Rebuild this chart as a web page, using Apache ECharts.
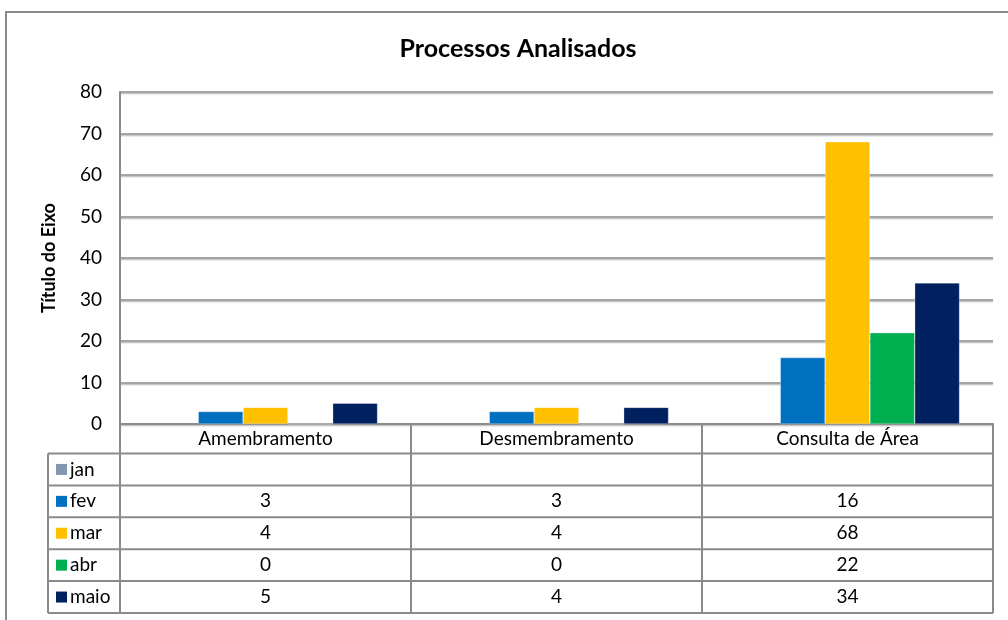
<!DOCTYPE html>
<html><head><meta charset="utf-8">
<script src="https://cdn.jsdelivr.net/npm/echarts@6/dist/echarts.min.js"></script>
<style>html,body{margin:0;padding:0;background:#fff}#c{width:1008px;height:620px}</style>
</head><body><div id="c"></div>
<script>
const categories = ['Amembramento', 'Desmembramento', 'Consulta de Área'];
const seriesNames = ['jan', 'fev', 'mar', 'abr', 'maio'];
const seriesColors = ['#8497B0', '#0070C0', '#FFC000', '#00B050', '#002060'];
const jan = [null, null, null];
const fev = [3, 3, 16];
const mar = [4, 4, 68];
const abr = [0, 0, 22];
const maio = [5, 4, 34];
const seriesData = [jan, fev, mar, abr, maio];

const FONT = 'Lato, "Liberation Sans", sans-serif';
const chart = echarts.init(document.getElementById('c'));

const G = {left: 120, right: 993, top: 92, bottom: 424};
const headerH = 29.5;
const rowH = 31.9;
const legendColLeft = 48;
const lineColor = '#8a8a8a';

function buildTable() {
  const els = [];
  const colW = (G.right - G.left) / categories.length;
  const tableBottom = G.bottom + headerH + rowH * seriesNames.length;
  els.push({type: 'rect', shape: {x: 6, y: 12, width: 1020, height: 640}, style: {fill: 'none', stroke: lineColor, lineWidth: 2}, silent: true, z: 0});
  for (let i = 0; i <= categories.length; i++) {
    const x = G.left + i * colW;
    els.push({type: 'line', shape: {x1: x, y1: G.bottom, x2: x, y2: tableBottom}, style: {stroke: lineColor, lineWidth: 2}, z: 5});
  }
  els.push({type: 'line', shape: {x1: legendColLeft, y1: G.bottom + headerH, x2: legendColLeft, y2: tableBottom}, style: {stroke: lineColor, lineWidth: 2}, z: 5});
  for (let r = 0; r <= seriesNames.length; r++) {
    const y = G.bottom + headerH + r * rowH;
    els.push({type: 'line', shape: {x1: legendColLeft, y1: y, x2: G.right, y2: y}, style: {stroke: lineColor, lineWidth: 2}, z: 5});
  }
  seriesNames.forEach((name, r) => {
    const yc = G.bottom + headerH + r * rowH + rowH / 2;
    els.push({type: 'rect', shape: {x: 56, y: yc - 5.5, width: 11, height: 11}, style: {fill: seriesColors[r]}, z: 6});
    els.push({type: 'text', style: {text: name, x: 70, y: yc, textVerticalAlign: 'middle', textAlign: 'left', font: '19px ' + FONT, fill: '#000'}, z: 6});
    seriesData[r].forEach((v, c) => {
      if (v === null || v === undefined) return;
      els.push({type: 'text', style: {text: String(v), x: G.left + (c + 0.5) * colW, y: yc, textVerticalAlign: 'middle', textAlign: 'center', font: '19px ' + FONT, fill: '#000'}, z: 6});
    });
  });
  return els;
}

const option = {
  animation: false,
  backgroundColor: '#fff',
  title: {
    text: 'Processos Analisados',
    left: 513, top: 31, textAlign: 'center',
    textStyle: {fontFamily: FONT, fontSize: 25, fontWeight: 'bold', color: '#000'}
  },
  grid: {left: G.left, right: 1008 - G.right, top: G.top, bottom: 620 - G.bottom, containLabel: false},
  xAxis: {
    type: 'category',
    data: categories,
    axisLine: {show: true, lineStyle: {color: lineColor, width: 2}},
    axisTick: {show: false},
    axisLabel: {margin: 5, fontFamily: FONT, fontSize: 19, color: '#000'},
    splitLine: {show: false}
  },
  yAxis: {
    type: 'value', min: 0, max: 80, interval: 10,
    name: 'Título do Eixo', nameLocation: 'middle', nameRotate: 90, nameGap: 62,
    nameTextStyle: {fontFamily: FONT, fontSize: 18, fontWeight: 'bold', color: '#000'},
    axisLine: {show: true, lineStyle: {color: lineColor, width: 2}},
    axisTick: {show: false},
    axisLabel: {margin: 18, fontFamily: FONT, fontSize: 19, color: '#000'},
    splitLine: {show: true, lineStyle: {color: lineColor, width: 1.5, shadowColor: 'rgba(0,0,0,0.25)', shadowOffsetY: 1.5, shadowBlur: 1}}
  },
  series: seriesNames.map((n, i) => ({
    name: n, type: 'bar', data: seriesData[i],
    barGap: '0%', barCategoryGap: '23%',
    itemStyle: {color: seriesColors[i], borderColor: 'rgba(255,255,255,0.6)', borderWidth: 0.5}
  })),
  graphic: buildTable()
};
chart.setOption(option);
</script></body></html>
